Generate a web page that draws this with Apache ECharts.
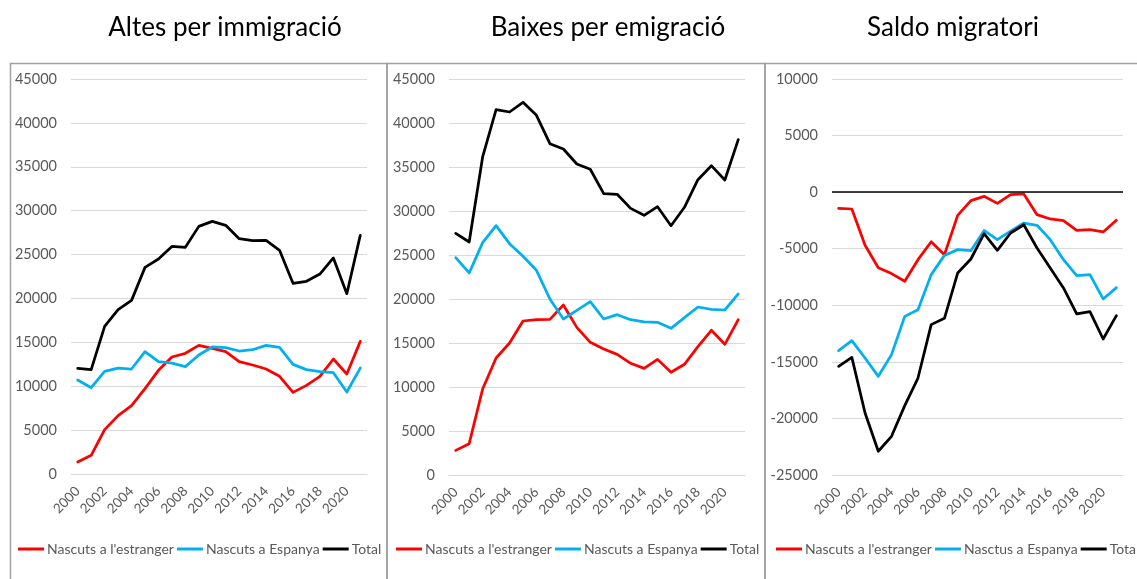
<!DOCTYPE html>
<html><head><meta charset="utf-8">
<script src="https://cdn.jsdelivr.net/npm/echarts@6/dist/echarts.min.js"></script>
<style>html,body{margin:0;padding:0;background:#fff}#c{width:1137px;height:579px}</style>
</head><body><div id="c"></div>
<script>
const years = ['2000','2001','2002','2003','2004','2005','2006','2007','2008','2009','2010','2011','2012','2013','2014','2015','2016','2017','2018','2019','2020','2021'];
const panelTitles = ['Altes per immigració', 'Baixes per emigració', 'Saldo migratori'];
const namesA = ["Nascuts a l'estranger", 'Nascuts a Espanya', 'Total'];
const namesC = ["Nascuts a l'estranger", 'Nasctus a Espanya', 'Total'];

const altesEstranger = [1370, 2130, 5050, 6650, 7780, 9720, 11810, 13330, 13750, 14660, 14310, 13940, 12800, 12420, 11960, 11130, 9300, 10100, 11130, 13100, 11390, 15110];
const altesEspanya = [10710, 9830, 11690, 12070, 11960, 13940, 12800, 12640, 12230, 13560, 14470, 14390, 14010, 14160, 14660, 14430, 12490, 11890, 11660, 11540, 9340, 12070];
const altesTotal = [12040, 11890, 16820, 18720, 19780, 23540, 24490, 25930, 25820, 28210, 28780, 28330, 26810, 26580, 26620, 25480, 21720, 21950, 22780, 24610, 20540, 27190];

const baixesEstranger = [2800, 3560, 9770, 13300, 15000, 17500, 17650, 17690, 19320, 16780, 15080, 14320, 13710, 12690, 12120, 13140, 11670, 12580, 14580, 16440, 14850, 17650];
const baixesEspanya = [24700, 22960, 26400, 28330, 26290, 24850, 23260, 20000, 17730, 18710, 19700, 17730, 18220, 17650, 17390, 17350, 16670, 17880, 19090, 18830, 18750, 20570];
const baixesTotal = [27460, 26480, 36140, 41520, 41250, 42350, 40870, 37650, 37050, 35340, 34740, 31970, 31900, 30300, 29510, 30490, 28330, 30420, 33560, 35150, 33520, 38110];

const saldoEstranger = [-1430, -1490, -4700, -6680, -7200, -7880, -5970, -4380, -5530, -2050, -750, -370, -990, -220, -160, -1990, -2370, -2520, -3380, -3320, -3520, -2490];
const saldoEspanya = [-14010, -13130, -14660, -16280, -14360, -10980, -10390, -7290, -5590, -5080, -5170, -3380, -4200, -3440, -2730, -2930, -4200, -5970, -7380, -7290, -9440, -8440];
const saldoTotal = [-15390, -14600, -19520, -22900, -21580, -18870, -16430, -11710, -11150, -7150, -5910, -3670, -5140, -3610, -2880, -4940, -6700, -8470, -10760, -10560, -12980, -10910];

const colors = ['#FF0000', '#00B0F0', '#000000'];
const FONT = 'Lato';
const GRAY = '#595959';

const grids = [
  {left: 71, top: 79, width: 296, height: 395},
  {left: 449, top: 79, width: 296, height: 396},
  {left: 832, top: 79, width: 291, height: 396}
];
const yRanges = [[0, 45000], [0, 45000], [-25000, 10000]];

const xAxes = grids.map((g, i) => ({
  type: 'category', gridIndex: i, data: years, boundaryGap: true,
  axisLine: {show: i < 2, lineStyle: {color: '#d9d9d9', width: 1}},
  axisTick: {show: false},
  axisLabel: {interval: 1, rotate: 45, color: GRAY, fontFamily: FONT, fontSize: 13.5, margin: 15}
}));
const yAxes = grids.map((g, i) => ({
  type: 'value', gridIndex: i, min: yRanges[i][0], max: yRanges[i][1], interval: 5000,
  axisLine: {show: false}, axisTick: {show: false},
  splitLine: {lineStyle: {color: '#d9d9d9', width: 1}},
  axisLabel: {color: GRAY, fontFamily: FONT, fontSize: 14.5, margin: 14, formatter: v => String(v)}
}));

function mk(name, data, idx, color) {
  return {
    name, type: 'line', data, xAxisIndex: idx, yAxisIndex: idx,
    symbol: 'none', showSymbol: false, smooth: false,
    color, itemStyle: {color},
    lineStyle: {color, width: 2.75, join: 'round', cap: 'round'},
    emphasis: {disabled: true}
  };
}
const series = [
  mk(namesA[0], altesEstranger, 0, colors[0]),
  mk(namesA[1], altesEspanya, 0, colors[1]),
  mk(namesA[2], altesTotal, 0, colors[2]),
  mk(namesA[0], baixesEstranger, 1, colors[0]),
  mk(namesA[1], baixesEspanya, 1, colors[1]),
  mk(namesA[2], baixesTotal, 1, colors[2]),
  mk(namesC[0], saldoEstranger, 2, colors[0]),
  mk(namesC[1], saldoEspanya, 2, colors[1]),
  mk(namesC[2], saldoTotal, 2, colors[2])
];
series[8].markLine = {
  silent: true, symbol: ['none', 'none'], label: {show: false},
  lineStyle: {color: '#000', width: 1.5, type: 'solid'},
  data: [{yAxis: 0}], animation: false
};
series[8].z = 3;

const legendLefts = [13, 391, 771];
const legends = legendLefts.map((l, i) => ({
  left: l, top: 537, width: 800, orient: 'horizontal',
  data: i < 2 ? namesA : namesC,
  icon: 'rect', itemWidth: 26, itemHeight: 3, itemGap: 3,
  selectedMode: false,
  textStyle: {color: GRAY, fontFamily: FONT, fontSize: 14, padding: [0, 0, 0, -2]}
}));

const titleCenters = [225, 608, 953];
const graphics = [
  {type: 'rect', shape: {x: 10.5, y: 63.5, width: 376.5, height: 600}, style: {fill: 'none', stroke: '#a0a0a0', lineWidth: 1.5}, silent: true},
  {type: 'rect', shape: {x: 387, y: 63.5, width: 378, height: 600}, style: {fill: 'none', stroke: '#a0a0a0', lineWidth: 1.5}, silent: true},
  {type: 'rect', shape: {x: 765, y: 63.5, width: 500, height: 600}, style: {fill: 'none', stroke: '#a0a0a0', lineWidth: 1.5}, silent: true}
].concat(panelTitles.map((t, i) => ({
  type: 'text', x: titleCenters[i], y: 28, silent: true,
  style: {text: t, fill: '#000', font: '26px ' + FONT, textAlign: 'center', textVerticalAlign: 'middle'}
})));

const chart = echarts.init(document.getElementById('c'), null, {renderer: 'canvas'});
chart.setOption({
  animation: false,
  backgroundColor: '#fff',
  grid: grids,
  xAxis: xAxes,
  yAxis: yAxes,
  legend: legends,
  series,
  graphic: graphics
});
</script>
</body></html>
